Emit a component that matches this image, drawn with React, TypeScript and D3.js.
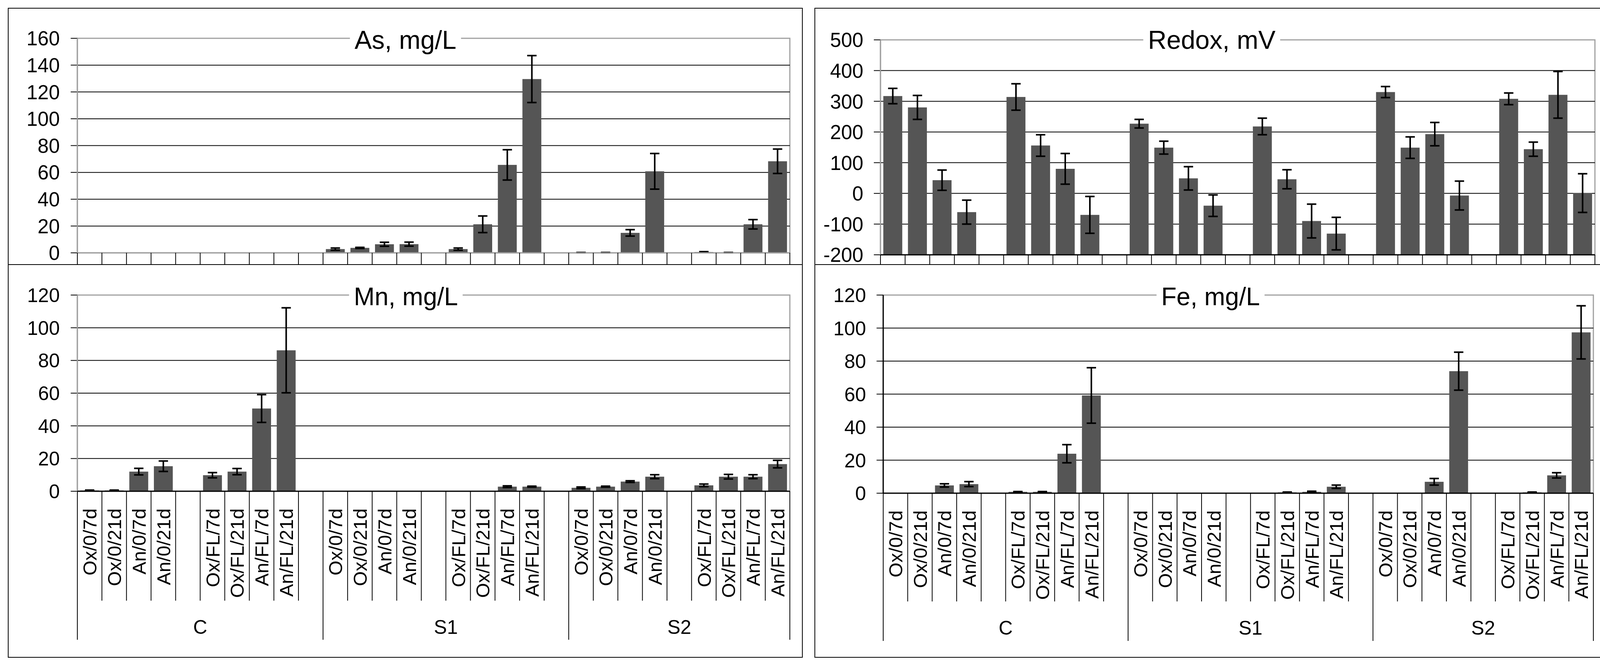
import React, { useRef, useEffect } from 'react';
import * as d3 from 'd3';

const W = 4146;
const H = 1717;
const FONT = "'Liberation Sans', Arial, Helvetica, sans-serif";

// category axis: three sites, each with two blocks of four treatments
const groupNames = ['C', 'S1', 'S2'];
const groupSizes = [10, 10, 9];
const categories = [
    'Ox/0/7d', 'Ox/0/21d', 'An/0/7d', 'An/0/21d', '', 'Ox/FL/7d', 'Ox/FL/21d', 'An/FL/7d', 'An/FL/21d', '',
    'Ox/0/7d', 'Ox/0/21d', 'An/0/7d', 'An/0/21d', '', 'Ox/FL/7d', 'Ox/FL/21d', 'An/FL/7d', 'An/FL/21d', '',
    'Ox/0/7d', 'Ox/0/21d', 'An/0/7d', 'An/0/21d', '', 'Ox/FL/7d', 'Ox/FL/21d', 'An/FL/7d', 'An/FL/21d',
];

const asTicks = [0, 20, 40, 60, 80, 100, 120, 140, 160];
const asValues = [
    0, 0, 0, 0, null, 0, 0, 0, 0, null,
    2.8, 3.7, 6.4, 6.5, null, 2.8, 21.3, 65.6, 129.6, null,
    0.2, 0.2, 14.9, 60.8, null, 0.6, 0.2, 21.3, 68.3,
];
const asErrors = [
    0, 0, 0, 0, null, 0, 0, 0, 0, null,
    0.8, 0.4, 1.5, 1.5, null, 0.8, 6.2, 11.3, 17.5, null,
    0.1, 0.1, 2.4, 13.3, null, 0.3, 0.1, 3.5, 9.1,
];

const redoxTicks = [-200, -100, 0, 100, 200, 300, 400, 500];
const redoxValues = [
    317, 280, 43, -61, null, 314, 156, 80, -70, null,
    227, 149, 49, -40, null, 218, 46, -90, -131, null,
    330, 149, 193, -7, null, 308, 144, 321, 1,
];
const redoxErrors = [
    25, 39, 33, 39, null, 43, 35, 50, 60, null,
    14, 21, 38, 35, null, 27, 31, 55, 53, null,
    18, 35, 38, 47, null, 19, 23, 76, 63,
];

const mnTicks = [0, 20, 40, 60, 80, 100, 120];
const mnValues = [
    0.5, 0.5, 12, 15.3, null, 9.8, 12, 50.6, 86.2, null,
    0.1, 0.1, 0.1, 0.1, null, 0.1, 0.2, 2.8, 2.8, null,
    2.1, 2.8, 5.9, 8.9, null, 3.6, 8.9, 8.9, 16.6,
];
const mnErrors = [
    0.2, 0.2, 2, 3.2, null, 1.6, 1.9, 8.5, 26, null,
    0, 0, 0, 0, null, 0, 0, 0.5, 0.3, null,
    0.5, 0.3, 0.5, 1.2, null, 0.8, 1.4, 1.2, 2.3,
];

const feTicks = [0, 20, 40, 60, 80, 100, 120];
const feValues = [
    0.1, 0.1, 4.7, 5.5, null, 0.8, 0.8, 23.9, 59.2, null,
    0, 0, 0, 0.1, null, 0, 0.5, 0.8, 3.9, null,
    0.1, 0.1, 6.9, 73.9, null, 0.1, 0.5, 10.8, 97.4,
];
const feErrors = [
    0, 0, 1, 1.5, null, 0.2, 0.2, 5.5, 16.8, null,
    0, 0, 0, 0, null, 0, 0.2, 0.4, 1, null,
    0, 0, 2, 11.5, null, 0, 0.2, 1.6, 16.1,
];

interface PanelSpec {
    title: string;
    values: (number | null)[];
    errors: (number | null)[];
    ticks: number[];
    x0: number; x1: number; yTop: number; yBottom: number;
    labelRight: number; tickStart: number; tickFont: number;
    titleX: number; titleY: number; titleFont: number;
    leftAxisColor: string; bottomAxisColor: string;
    catTickBottom: number;
    showLabels: boolean;
    groupBottom?: number;
    groupLabelY?: number;
}

const panels: PanelSpec[] = [
    {
        title: 'As, mg/L', values: asValues, errors: asErrors, ticks: asTicks,
        x0: 198, x1: 2022, yTop: 98, yBottom: 647,
        labelRight: 153, tickStart: 181, tickFont: 51,
        titleX: 1038, titleY: 125, titleFont: 66,
        leftAxisColor: '#a0a0a0', bottomAxisColor: '#a0a0a0',
        catTickBottom: 677, showLabels: false,
    },
    {
        title: 'Redox, mV', values: redoxValues, errors: redoxErrors, ticks: redoxTicks,
        x0: 2254, x1: 4083, yTop: 102, yBottom: 652,
        labelRight: 2210, tickStart: 2237, tickFont: 51,
        titleX: 3102, titleY: 125, titleFont: 66,
        leftAxisColor: '#a0a0a0', bottomAxisColor: '#000',
        catTickBottom: 677, showLabels: false,
    },
    {
        title: 'Mn, mg/L', values: mnValues, errors: mnErrors, ticks: mnTicks,
        x0: 198, x1: 2022, yTop: 755, yBottom: 1257,
        labelRight: 153, tickStart: 181, tickFont: 50,
        titleX: 1039, titleY: 781, titleFont: 64,
        leftAxisColor: '#a0a0a0', bottomAxisColor: '#000',
        catTickBottom: 1537, showLabels: true, groupBottom: 1637, groupLabelY: 1622,
    },
    {
        title: 'Fe, mg/L', values: feValues, errors: feErrors, ticks: feTicks,
        x0: 2261, x1: 4079, yTop: 755, yBottom: 1262,
        labelRight: 2217, tickStart: 2244, tickFont: 50,
        titleX: 3099, titleY: 781, titleFont: 64,
        leftAxisColor: '#000', bottomAxisColor: '#000',
        catTickBottom: 1539, showLabels: true, groupBottom: 1640, groupLabelY: 1624,
    },
];

function drawPanel(root: d3.Selection<SVGGElement, unknown, null, undefined>, s: PanelSpec) {
    const g = root.append('g');
    const n = categories.length;
    const x = d3.scaleBand<number>().domain(d3.range(n)).range([s.x0, s.x1]).padding(0);
    const y = d3.scaleLinear()
        .domain([s.ticks[0], s.ticks[s.ticks.length - 1]])
        .range([s.yBottom, s.yTop]);
    const base = s.ticks[0] < 0 ? s.ticks[0] : 0;
    const bw = x.bandwidth() / 1.3;

    // plot area border
    g.append('rect')
        .attr('x', s.x0).attr('y', s.yTop)
        .attr('width', s.x1 - s.x0).attr('height', s.yBottom - s.yTop)
        .attr('fill', 'none').attr('stroke', '#a0a0a0').attr('stroke-width', 3);

    // gridlines
    g.selectAll('line.grid')
        .data(s.ticks.slice(1, -1))
        .join('line')
        .attr('class', 'grid')
        .attr('x1', s.x0).attr('x2', s.x1)
        .attr('y1', d => y(d)).attr('y2', d => y(d))
        .attr('stroke', '#000').attr('stroke-width', 2);

    // y ticks + labels
    g.selectAll('line.ytick')
        .data(s.ticks)
        .join('line')
        .attr('class', 'ytick')
        .attr('x1', s.tickStart).attr('x2', s.x0)
        .attr('y1', d => y(d)).attr('y2', d => y(d))
        .attr('stroke', '#000').attr('stroke-width', 2);
    g.selectAll('text.ylab')
        .data(s.ticks)
        .join('text')
        .attr('class', 'ylab')
        .attr('x', s.labelRight)
        .attr('y', d => y(d))
        .attr('dy', '0.36em')
        .attr('text-anchor', 'end')
        .style('font-family', FONT)
        .style('font-size', s.tickFont + 'px')
        .text(d => String(d));

    const idx = d3.range(n).filter(i => s.values[i] !== null && s.values[i] !== 0);

    // bars
    g.selectAll('rect.bar')
        .data(idx)
        .join('rect')
        .attr('class', 'bar')
        .attr('x', i => (x(i) as number) + (x.bandwidth() - bw) / 2)
        .attr('width', bw)
        .attr('y', i => Math.min(y(s.values[i] as number), y(base)))
        .attr('height', i => Math.abs(y(base) - y(s.values[i] as number)))
        .attr('fill', '#555555');

    // error bars
    const errIdx = idx.filter(i => (s.errors[i] ?? 0) > 0);
    const cap = 12;
    const eg = g.selectAll('g.err').data(errIdx).join('g').attr('class', 'err')
        .attr('stroke', '#000').attr('stroke-width', 4);
    const cx = (i: number) => (x(i) as number) + x.bandwidth() / 2;
    eg.append('line')
        .attr('x1', cx).attr('x2', cx)
        .attr('y1', i => y((s.values[i] as number) + (s.errors[i] as number)))
        .attr('y2', i => y((s.values[i] as number) - (s.errors[i] as number)));
    eg.append('line')
        .attr('x1', i => cx(i) - cap).attr('x2', i => cx(i) + cap)
        .attr('y1', i => y((s.values[i] as number) + (s.errors[i] as number)))
        .attr('y2', i => y((s.values[i] as number) + (s.errors[i] as number)));
    eg.append('line')
        .attr('x1', i => cx(i) - cap).attr('x2', i => cx(i) + cap)
        .attr('y1', i => y((s.values[i] as number) - (s.errors[i] as number)))
        .attr('y2', i => y((s.values[i] as number) - (s.errors[i] as number)));

    // axis lines
    g.append('line')
        .attr('x1', s.x0).attr('x2', s.x0).attr('y1', s.yTop).attr('y2', s.yBottom)
        .attr('stroke', s.leftAxisColor).attr('stroke-width', 3);
    g.append('line')
        .attr('x1', s.x0).attr('x2', s.x1).attr('y1', s.yBottom).attr('y2', s.yBottom)
        .attr('stroke', s.bottomAxisColor).attr('stroke-width', 3);

    // category tick lines (group boundaries are taller in the labelled charts)
    const groupEdges = new Set<number>([0]);
    groupSizes.reduce((acc, k) => { groupEdges.add(acc + k); return acc + k; }, 0);
    g.selectAll('line.ctick')
        .data(d3.range(n + 1))
        .join('line')
        .attr('class', 'ctick')
        .attr('x1', i => s.x0 + i * x.step()).attr('x2', i => s.x0 + i * x.step())
        .attr('y1', s.yBottom)
        .attr('y2', i => (s.showLabels && groupEdges.has(i)) ? (s.groupBottom as number) : s.catTickBottom)
        .attr('stroke', '#000').attr('stroke-width', 2);

    if (s.showLabels) {
        g.selectAll('text.clab')
            .data(d3.range(n).filter(i => categories[i] !== ''))
            .join('text')
            .attr('class', 'clab')
            .attr('transform', i => `translate(${cx(i)},${s.yBottom + 44}) rotate(-90)`)
            .attr('dy', '0.36em')
            .attr('text-anchor', 'end')
            .style('font-family', FONT)
            .style('font-size', '49px')
            .text(i => categories[i]);

        let start = 0;
        groupNames.forEach((name, k) => {
            const a = s.x0 + start * x.step();
            const b = s.x0 + (start + groupSizes[k]) * x.step();
            g.append('text')
                .attr('x', (a + b) / 2)
                .attr('y', s.groupLabelY as number)
                .attr('text-anchor', 'middle')
                .style('font-family', FONT)
                .style('font-size', '50px')
                .text(name);
            start += groupSizes[k];
        });
    }

    // title with white backing over the border line
    const title = g.append('text')
        .attr('x', s.titleX).attr('y', s.titleY)
        .attr('text-anchor', 'middle')
        .style('font-family', FONT)
        .style('font-size', s.titleFont + 'px')
        .text(s.title);
    const bb = (title.node() as SVGTextElement).getBBox();
    g.insert('rect', () => title.node() as SVGTextElement)
        .attr('x', bb.x - 12).attr('y', bb.y)
        .attr('width', bb.width + 24).attr('height', bb.height)
        .attr('fill', '#fff');
}

const App: React.FC = () => {
    const svgRef = useRef<SVGSVGElement | null>(null);

    useEffect(() => {
        const svg = d3.select(svgRef.current);
        svg.selectAll('*').remove();
        const root = svg.append('g');

        root.append('rect').attr('width', W).attr('height', H).attr('fill', '#fff');

        // outer frames of the two figure halves
        [[21, 2054], [2086, 4112]].forEach(([a, b]) => {
            root.append('rect')
                .attr('x', a).attr('y', 21).attr('width', b - a).attr('height', 1682 - 21)
                .attr('fill', 'none').attr('stroke', '#000').attr('stroke-width', 2);
        });

        panels.forEach(p => drawPanel(root, p));

        [[21, 2054], [2086, 4112]].forEach(([a, b]) => {
            root.append('line')
                .attr('x1', a).attr('x2', b).attr('y1', 677).attr('y2', 677)
                .attr('stroke', '#000').attr('stroke-width', 2);
        });

        return () => {
            // eslint-disable-next-line react-hooks/exhaustive-deps
            d3.select(svgRef.current).selectAll('*').remove();
        };
    }, []);

    return (
        <svg ref={svgRef} width={W} height={H}
             style={{position: 'absolute', left: 0, top: 0, display: 'block'}} />
    );
};

export default App;
